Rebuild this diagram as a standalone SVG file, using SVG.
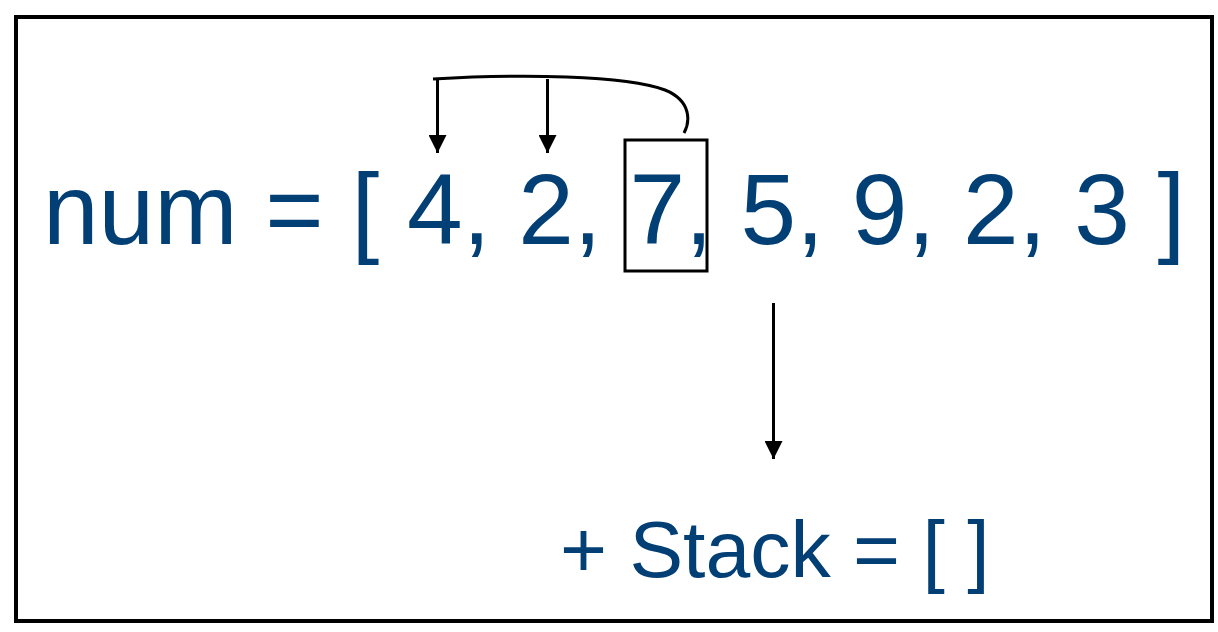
<svg xmlns="http://www.w3.org/2000/svg" width="1218" height="632" viewBox="0 0 1218 632">
  <style>
    .lbl { font-family: "Liberation Sans", Arial, sans-serif; fill: #023f75; }
    .ln { fill: none; stroke: #000; stroke-width: 3; }
  </style>
  <defs>
    <marker id="ah" markerWidth="6" markerHeight="6" refX="6" refY="3" orient="auto" markerUnits="strokeWidth">
      <path d="M0,0 L6,3 L0,6 Z" fill="#000"/>
    </marker>
  </defs>
  <rect width="1218" height="632" fill="#fff"/>
  <rect id="frame" x="16" y="17" width="1196" height="604" fill="none" stroke="#000" stroke-width="4"/>
  <g id="array">
    <text class="lbl" x="43" y="244" font-size="100">num = [ 4, 2, 7, 5, 9, 2, 3 ]</text>
  </g>
  <g id="current">
    <rect x="625" y="140" width="82" height="131" fill="none" stroke="#000" stroke-width="3"/>
  </g>
  <g id="stack">
    <text class="lbl" x="560" y="577" font-size="80.5">+ Stack = [ ]</text>
  </g>
  <g id="connectors">
    <path class="ln" d="M433,79 C520,74 625,75 665,90 C692,101 690,122 684,133"/>
    <line class="ln" x1="437.5" y1="79" x2="437.5" y2="153" marker-end="url(#ah)"/>
    <line class="ln" x1="547.5" y1="79" x2="547.5" y2="153" marker-end="url(#ah)"/>
    <line class="ln" x1="773.5" y1="303" x2="773.5" y2="459" marker-end="url(#ah)"/>
  </g>
</svg>
